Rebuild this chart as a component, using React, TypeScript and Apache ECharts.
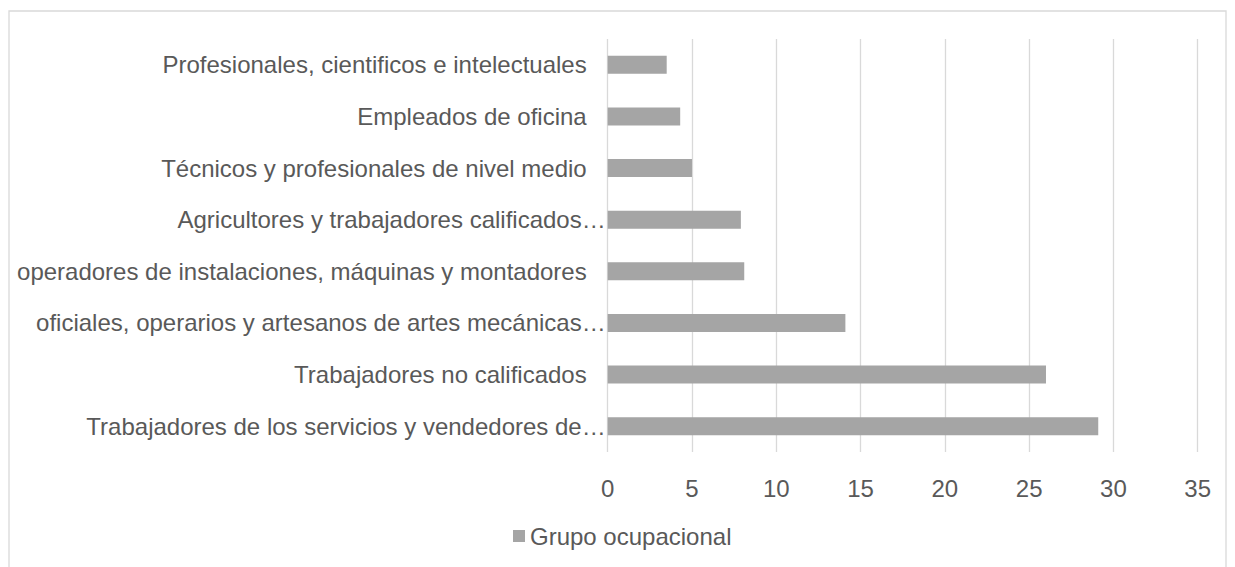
import React, { useEffect, useRef } from "react";
import * as echarts from "echarts";

const categories: string[] = [
  "Profesionales, cientificos e intelectuales",
  "Empleados de oficina",
  "Técnicos y profesionales de nivel medio",
  "Agricultores y trabajadores calificados…",
  "operadores de instalaciones, máquinas y montadores",
  "oficiales, operarios y artesanos de artes mecánicas…",
  "Trabajadores no calificados",
  "Trabajadores de los servicios y vendedores de…",
];
const values: number[] = [3.5, 4.3, 5.0, 7.9, 8.1, 14.1, 26.0, 29.1];
const seriesName = "Grupo ocupacional";
const xMin = 0;
const xMax = 35;
const xInterval = 5;

const FONT = '"Liberation Sans", Arial, sans-serif';
const TEXT = "#595959";

export default function App() {
  const ref = useRef<HTMLDivElement>(null);
  useEffect(() => {
    if (!ref.current) return;
    const chart = echarts.init(ref.current, undefined, { renderer: "svg" });
    chart.setOption({
      animation: false,
      backgroundColor: "#ffffff",
      textStyle: { fontFamily: FONT },
      graphic: [
        {
          type: "rect",
          shape: { x: 9, y: 11, width: 1217, height: 600 },
          style: { fill: "none", stroke: "#D9D9D9", lineWidth: 1.3 },
          silent: true,
          z: -1,
        },
      ],
      grid: { left: 607.7, top: 39, width: 590, height: 413 },
      xAxis: {
        type: "value",
        min: xMin,
        max: xMax,
        interval: xInterval,
        axisLine: { show: false },
        axisTick: { show: false },
        axisLabel: { color: TEXT, fontSize: 24, fontFamily: FONT, margin: 24 },
        splitLine: { show: true, lineStyle: { color: "#D9D9D9", width: 1.3 } },
      },
      yAxis: {
        type: "category",
        data: categories,
        inverse: true,
        axisLine: { show: false },
        axisTick: { show: false },
        axisLabel: {
          margin: 2,
          formatter: (v: string) => (v.endsWith("…") ? `{t|${v}}` : `{n|${v}}`),
          rich: {
            t: { color: TEXT, fontSize: 24, fontFamily: FONT },
            n: { color: TEXT, fontSize: 24, fontFamily: FONT, padding: [0, 19, 0, 0] },
          },
        },
      },
      legend: {
        left: 508,
        top: 519,
        icon: "rect",
        itemWidth: 12,
        itemHeight: 12,
        itemGap: 5,
        textStyle: { color: TEXT, fontSize: 24, fontFamily: FONT },
        data: [seriesName],
      },
      series: [
        {
          name: seriesName,
          type: "bar",
          data: values,
          barWidth: 18,
          itemStyle: { color: "#A5A5A5" },
        },
      ],
    });
    return () => chart.dispose();
  }, []);
  return (
    <div
      ref={ref}
      style={{ position: "absolute", left: 0, top: 0, width: 1235, height: 567 }}
    />
  );
}
